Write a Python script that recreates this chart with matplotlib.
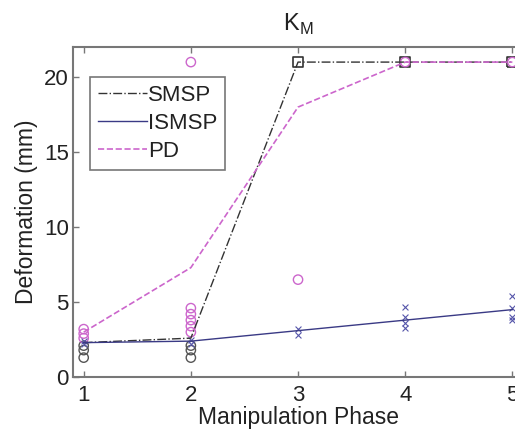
import matplotlib
matplotlib.use("Agg")
import matplotlib.pyplot as plt

plt.rcParams['font.family'] = ['Liberation Sans', 'DejaVu Sans']

phases = [1, 2, 3, 4, 5]
smsp_mean = [2.3, 2.6, 21.0, 21.0, 21.0]
ismsp_mean = [2.3, 2.4, 3.1, 3.8, 4.5]
pd_mean = [3.0, 7.3, 18.0, 21.0, 21.0]

# individual trials
smsp_circ_x = [1, 1, 1, 2, 2, 2]
smsp_circ_y = [1.3, 1.8, 2.1, 1.3, 1.8, 2.1]
smsp_sq_x = [3, 4, 5]
smsp_sq_y = [21.0, 21.0, 21.0]
pd_circ_x = [1, 1, 1, 2, 2, 2, 2, 2, 2, 3, 4, 5]
pd_circ_y = [2.6, 2.9, 3.2, 3.0, 3.4, 3.8, 4.2, 4.6, 21.0, 6.5, 21.0, 21.0]
ismsp_x_x = [1, 1, 2, 2, 3, 3, 4, 4, 4, 4, 5, 5, 5, 5]
ismsp_x_y = [2.2, 2.4, 2.2, 2.5, 2.8, 3.2, 3.3, 3.6, 4.0, 4.7, 3.8, 4.0, 4.6, 5.4]

fig = plt.figure(figsize=(5.15, 4.32), dpi=100)
ax = fig.add_axes([0.1417, 0.127, 0.874, 0.764])

c_smsp = '#333333'
c_ismsp = '#3a3a85'
c_pd = '#cc66cc'

ax.scatter(smsp_circ_x, smsp_circ_y, s=45, facecolors='none', edgecolors='#555555', linewidths=1.0, zorder=3)
ax.scatter(smsp_sq_x, smsp_sq_y, s=50, marker='s', facecolors='none', edgecolors='#333333', linewidths=1.2, zorder=3)
ax.scatter(pd_circ_x, pd_circ_y, s=45, facecolors='none', edgecolors=c_pd, linewidths=1.0, zorder=3)
ax.scatter(ismsp_x_x, ismsp_x_y, s=18, marker='x', color='#5555aa', linewidths=0.8, zorder=3)

ax.plot(phases, smsp_mean, color=c_smsp, ls='-.', lw=1.0, label='SMSP', zorder=4)
ax.plot(phases, ismsp_mean, color=c_ismsp, ls='-', lw=1.0, label='ISMSP', zorder=4)
ax.plot(phases, pd_mean, color=c_pd, ls='--', lw=1.2, label='PD', zorder=4)

ax.set_xlim(0.9, 5.1)
ax.set_ylim(0, 22)
ax.set_xticks([1, 2, 3, 4, 5])
ax.set_yticks([0, 5, 10, 15, 20])
ax.tick_params(direction='in', length=4, width=1, colors='#777777', labelsize=16,
               labelcolor='#222222', top=True, right=True)
ax.tick_params(axis='x', pad=6)
ax.tick_params(axis='y', pad=3)
for s in ax.spines.values():
    s.set_color('#777777')
    s.set_linewidth(1.5)

ax.set_xlabel('Manipulation Phase', fontsize=16.5, color='#222222', labelpad=0)
ax.set_ylabel('Deformation (mm)', fontsize=16.5, color='#222222', labelpad=4)
ax.set_title('K$_\\mathregular{M}$', fontsize=17, color='#222222', pad=12)

leg = ax.legend(loc='upper left', bbox_to_anchor=(0.038, 0.91), fontsize=16,
                frameon=True, fancybox=False, borderpad=0.35, handlelength=2.2,
                handletextpad=0.05, labelspacing=0.32, borderaxespad=0)
leg.get_frame().set_edgecolor('#555555')
leg.get_frame().set_linewidth(1.2)
for t in leg.get_texts():
    t.set_color('#222222')

fig.savefig('out.png', dpi=100)
